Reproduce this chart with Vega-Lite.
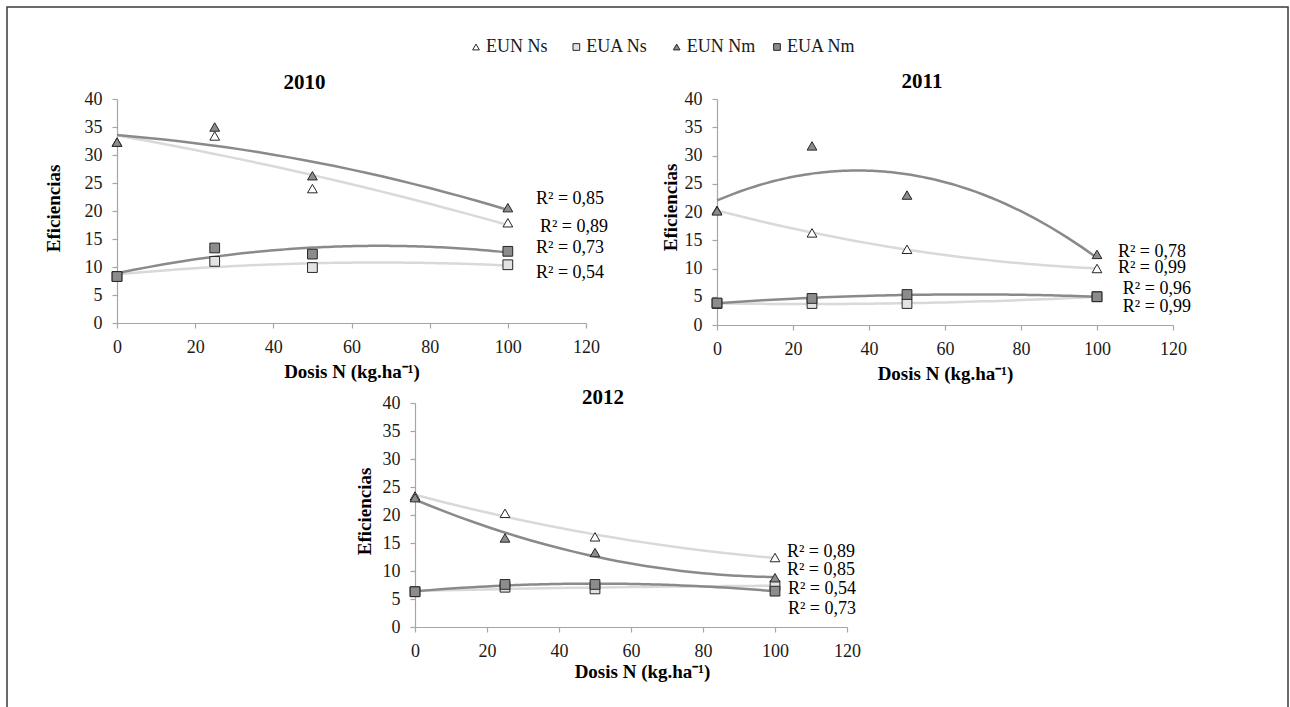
{
  "$schema": "https://vega.github.io/schema/vega-lite/v6.json",
  "autosize": {"type": "none"},
  "padding": {"left": 7, "top": 7, "right": 1283, "bottom": 700},
  "background": "white",
  "datasets": {
    "d": [
      {"anio": 2010, "serie": "EUN Ns", "dosis": 0, "valor": 32.3},
      {"anio": 2010, "serie": "EUN Ns", "dosis": 25, "valor": 33.4},
      {"anio": 2010, "serie": "EUN Ns", "dosis": 50, "valor": 24.0},
      {"anio": 2010, "serie": "EUN Ns", "dosis": 100, "valor": 17.9},
      {"anio": 2010, "serie": "EUA Ns", "dosis": 0, "valor": 8.3},
      {"anio": 2010, "serie": "EUA Ns", "dosis": 25, "valor": 11.0},
      {"anio": 2010, "serie": "EUA Ns", "dosis": 50, "valor": 9.9},
      {"anio": 2010, "serie": "EUA Ns", "dosis": 100, "valor": 10.4},
      {"anio": 2010, "serie": "EUN Nm", "dosis": 0, "valor": 32.3},
      {"anio": 2010, "serie": "EUN Nm", "dosis": 25, "valor": 35.0},
      {"anio": 2010, "serie": "EUN Nm", "dosis": 50, "valor": 26.3},
      {"anio": 2010, "serie": "EUN Nm", "dosis": 100, "valor": 20.6},
      {"anio": 2010, "serie": "EUA Nm", "dosis": 0, "valor": 8.3},
      {"anio": 2010, "serie": "EUA Nm", "dosis": 25, "valor": 13.4},
      {"anio": 2010, "serie": "EUA Nm", "dosis": 50, "valor": 12.3},
      {"anio": 2010, "serie": "EUA Nm", "dosis": 100, "valor": 12.8},
      {"anio": 2011, "serie": "EUN Ns", "dosis": 0, "valor": 20.3},
      {"anio": 2011, "serie": "EUN Ns", "dosis": 25, "valor": 16.3},
      {"anio": 2011, "serie": "EUN Ns", "dosis": 50, "valor": 13.4},
      {"anio": 2011, "serie": "EUN Ns", "dosis": 100, "valor": 10.0},
      {"anio": 2011, "serie": "EUA Ns", "dosis": 0, "valor": 3.8},
      {"anio": 2011, "serie": "EUA Ns", "dosis": 25, "valor": 3.8},
      {"anio": 2011, "serie": "EUA Ns", "dosis": 50, "valor": 3.8},
      {"anio": 2011, "serie": "EUA Ns", "dosis": 100, "valor": 5.0},
      {"anio": 2011, "serie": "EUN Nm", "dosis": 0, "valor": 20.2},
      {"anio": 2011, "serie": "EUN Nm", "dosis": 25, "valor": 31.7},
      {"anio": 2011, "serie": "EUN Nm", "dosis": 50, "valor": 23.0},
      {"anio": 2011, "serie": "EUN Nm", "dosis": 100, "valor": 12.5},
      {"anio": 2011, "serie": "EUA Nm", "dosis": 0, "valor": 3.9},
      {"anio": 2011, "serie": "EUA Nm", "dosis": 25, "valor": 4.7},
      {"anio": 2011, "serie": "EUA Nm", "dosis": 50, "valor": 5.4},
      {"anio": 2011, "serie": "EUA Nm", "dosis": 100, "valor": 5.0},
      {"anio": 2012, "serie": "EUN Ns", "dosis": 0, "valor": 23.4},
      {"anio": 2012, "serie": "EUN Ns", "dosis": 25, "valor": 20.3},
      {"anio": 2012, "serie": "EUN Ns", "dosis": 50, "valor": 16.1},
      {"anio": 2012, "serie": "EUN Ns", "dosis": 100, "valor": 12.4},
      {"anio": 2012, "serie": "EUA Ns", "dosis": 0, "valor": 6.3},
      {"anio": 2012, "serie": "EUA Ns", "dosis": 25, "valor": 7.1},
      {"anio": 2012, "serie": "EUA Ns", "dosis": 50, "valor": 6.8},
      {"anio": 2012, "serie": "EUA Ns", "dosis": 100, "valor": 7.4},
      {"anio": 2012, "serie": "EUN Nm", "dosis": 0, "valor": 23.1},
      {"anio": 2012, "serie": "EUN Nm", "dosis": 25, "valor": 15.9},
      {"anio": 2012, "serie": "EUN Nm", "dosis": 50, "valor": 13.3},
      {"anio": 2012, "serie": "EUN Nm", "dosis": 100, "valor": 8.8},
      {"anio": 2012, "serie": "EUA Nm", "dosis": 0, "valor": 6.3},
      {"anio": 2012, "serie": "EUA Nm", "dosis": 25, "valor": 7.6},
      {"anio": 2012, "serie": "EUA Nm", "dosis": 50, "valor": 7.6},
      {"anio": 2012, "serie": "EUA Nm", "dosis": 100, "valor": 6.4}
    ],
    "r2": [
      {"anio": 2010, "dosis": 107.2, "valor": 22.1, "etiqueta": "R² = 0,85"},
      {"anio": 2010, "dosis": 108.2, "valor": 17.1, "etiqueta": "R² = 0,89"},
      {"anio": 2010, "dosis": 107.2, "valor": 13.4, "etiqueta": "R² = 0,73"},
      {"anio": 2010, "dosis": 107.2, "valor": 8.9, "etiqueta": "R² = 0,54"},
      {"anio": 2011, "dosis": 105.5, "valor": 12.9, "etiqueta": "R² = 0,78"},
      {"anio": 2011, "dosis": 105.5, "valor": 10.1, "etiqueta": "R² = 0,99"},
      {"anio": 2011, "dosis": 106.8, "valor": 6.4, "etiqueta": "R² = 0,96"},
      {"anio": 2011, "dosis": 106.8, "valor": 3.2, "etiqueta": "R² = 0,99"},
      {"anio": 2012, "dosis": 103.3, "valor": 13.4, "etiqueta": "R² = 0,89"},
      {"anio": 2012, "dosis": 103.3, "valor": 10.2, "etiqueta": "R² = 0,85"},
      {"anio": 2012, "dosis": 103.6, "valor": 6.8, "etiqueta": "R² = 0,54"},
      {"anio": 2012, "dosis": 103.6, "valor": 3.2, "etiqueta": "R² = 0,73"}
    ],
    "leyenda": [
      {"serie": "EUN Ns"},
      {"serie": "EUA Ns"},
      {"serie": "EUN Nm"},
      {"serie": "EUA Nm"}
    ]
  },
  "bounds": "flush",
  "spacing": 0,
  "vconcat": [
    {
      "bounds": "flush",
      "spacing": 0,
      "vconcat": [
        {"width": 1, "height": 39, "data": {"values": [{}]}, "mark": {"type": "text", "text": ""}, "encoding": {}},
        {
          "bounds": "flush",
          "spacing": 0,
          "hconcat": [
            {"width": 469, "height": 1, "data": {"values": [{}]}, "mark": {"type": "text", "text": ""}, "encoding": {}},
            {
              "width": 301, "height": 2,
              "data": {"name": "leyenda"},
              "encoding": {
                "x": {"field": "serie", "type": "nominal", "scale": {"type": "point", "domain": ["EUN Ns", "EUA Ns", "EUN Nm", "EUA Nm"], "padding": 0}, "axis": null}
              },
              "layer": [
                {"mark": {"type": "point", "filled": true, "opacity": 1, "stroke": "#262626", "strokeWidth": 1, "size": 45},
                 "encoding": {
                   "shape": {"field": "serie", "type": "nominal", "scale": {"domain": ["EUN Ns", "EUA Ns", "EUN Nm", "EUA Nm"], "range": ["triangle-up", "square", "triangle-up", "square"]}, "legend": null},
                   "fill": {"field": "serie", "type": "nominal", "scale": {"domain": ["EUN Ns", "EUA Ns", "EUN Nm", "EUA Nm"], "range": ["#ffffff", "#e3e3e3", "#8c8c8c", "#8c8c8c"]}, "legend": null}
                 }},
                {"mark": {"type": "text", "align": "left", "baseline": "middle", "dx": 10, "fontSize": 18, "color": "#1a1a1a"},
                 "encoding": {"text": {"field": "serie", "type": "nominal"}}}
              ]
            }
          ]
        }
      ]
    },
    {
      "bounds": "flush",
      "spacing": 0,
      "vconcat": [
        {"width": 1, "height": 92, "data": {"values": [{}]}, "mark": {"type": "text", "text": ""}, "encoding": {}},
        {
          "bounds": "flush",
          "spacing": 0,
          "hconcat": [
            {"width": 110, "height": 1, "data": {"values": [{}]}, "mark": {"type": "text", "text": ""}, "encoding": {}},
            {
              "width": 469, "height": 224,
              "title": {"text": "2010", "dx": -47, "offset": -20, "frame": "group", "baseline": "alphabetic"},
              "encoding": {
                "x": {"field": "dosis", "type": "quantitative", "scale": {"domain": [0, 120], "nice": false}, "axis": {"title": "Dosis N (kg.ha⁻¹)", "values": [0, 20, 40, 60, 80, 100, 120], "titleX": 234.5, "titleY": 48}},
                "y": {"field": "valor", "type": "quantitative", "scale": {"domain": [0, 40], "nice": false}, "axis": {"title": "Eficiencias", "values": [0, 5, 10, 15, 20, 25, 30, 35, 40], "titleX": -64, "titleY": 109}}
              },
              "layer": [
                {"data": {"name": "d"}, "transform": [{"filter": "datum.anio == 2010"}, {"regression": "valor", "on": "dosis", "groupby": ["serie"], "method": "poly", "order": 2}],
                 "mark": {"type": "line", "strokeWidth": 2.5},
                 "encoding": {"stroke": {"field": "serie", "type": "nominal", "scale": {"domain": ["EUN Ns", "EUA Ns", "EUN Nm", "EUA Nm"], "range": ["#d9d9d9", "#d9d9d9", "#8a8a8a", "#8a8a8a"]}, "legend": null}}},
                {"data": {"name": "d"}, "transform": [{"filter": "datum.anio == 2010"}],
                 "mark": {"type": "point", "filled": true, "opacity": 1, "stroke": "#262626", "strokeWidth": 1, "size": 95},
                 "encoding": {
                   "shape": {"field": "serie", "type": "nominal", "scale": {"domain": ["EUN Ns", "EUA Ns", "EUN Nm", "EUA Nm"], "range": ["triangle-up", "square", "triangle-up", "square"]}, "legend": null},
                   "fill": {"field": "serie", "type": "nominal", "scale": {"domain": ["EUN Ns", "EUA Ns", "EUN Nm", "EUA Nm"], "range": ["#ffffff", "#e3e3e3", "#8c8c8c", "#8c8c8c"]}, "legend": null}
                 }},
                {"data": {"name": "r2"}, "transform": [{"filter": "datum.anio == 2010"}],
                 "mark": {"type": "text", "align": "left", "baseline": "middle"},
                 "encoding": {"text": {"field": "etiqueta", "type": "nominal"}}}
              ]
            },
            {"width": 131, "height": 1, "data": {"values": [{}]}, "mark": {"type": "text", "text": ""}, "encoding": {}},
            {
              "width": 456, "height": 226,
              "title": {"text": "2011", "dx": -23, "offset": -19, "frame": "group", "baseline": "alphabetic"},
              "encoding": {
                "x": {"field": "dosis", "type": "quantitative", "scale": {"domain": [0, 120], "nice": false}, "axis": {"title": "Dosis N (kg.ha⁻¹)", "values": [0, 20, 40, 60, 80, 100, 120], "titleX": 228, "titleY": 48}},
                "y": {"field": "valor", "type": "quantitative", "scale": {"domain": [0, 40], "nice": false}, "axis": {"title": "Eficiencias", "values": [0, 5, 10, 15, 20, 25, 30, 35, 40], "titleX": -47, "titleY": 108}}
              },
              "layer": [
                {"data": {"name": "d"}, "transform": [{"filter": "datum.anio == 2011"}, {"regression": "valor", "on": "dosis", "groupby": ["serie"], "method": "poly", "order": 2}],
                 "mark": {"type": "line", "strokeWidth": 2.5},
                 "encoding": {"stroke": {"field": "serie", "type": "nominal", "scale": {"domain": ["EUN Ns", "EUA Ns", "EUN Nm", "EUA Nm"], "range": ["#d9d9d9", "#d9d9d9", "#8a8a8a", "#8a8a8a"]}, "legend": null}}},
                {"data": {"name": "d"}, "transform": [{"filter": "datum.anio == 2011"}],
                 "mark": {"type": "point", "filled": true, "opacity": 1, "stroke": "#262626", "strokeWidth": 1, "size": 95},
                 "encoding": {
                   "shape": {"field": "serie", "type": "nominal", "scale": {"domain": ["EUN Ns", "EUA Ns", "EUN Nm", "EUA Nm"], "range": ["triangle-up", "square", "triangle-up", "square"]}, "legend": null},
                   "fill": {"field": "serie", "type": "nominal", "scale": {"domain": ["EUN Ns", "EUA Ns", "EUN Nm", "EUA Nm"], "range": ["#ffffff", "#e3e3e3", "#8c8c8c", "#8c8c8c"]}, "legend": null}
                 }},
                {"data": {"name": "r2"}, "transform": [{"filter": "datum.anio == 2011"}],
                 "mark": {"type": "text", "align": "left", "baseline": "middle"},
                 "encoding": {"text": {"field": "etiqueta", "type": "nominal"}}}
              ]
            }
          ]
        }
      ]
    },
    {
      "bounds": "flush",
      "spacing": 0,
      "vconcat": [
        {"width": 1, "height": 396, "data": {"values": [{}]}, "mark": {"type": "text", "text": ""}, "encoding": {}},
        {
          "bounds": "flush",
          "spacing": 0,
          "hconcat": [
            {"width": 408, "height": 1, "data": {"values": [{}]}, "mark": {"type": "text", "text": ""}, "encoding": {}},
            {
              "width": 432, "height": 224,
              "title": {"text": "2012", "dx": -28, "offset": -31, "frame": "group", "baseline": "alphabetic"},
              "encoding": {
                "x": {"field": "dosis", "type": "quantitative", "scale": {"domain": [0, 120], "nice": false}, "axis": {"title": "Dosis N (kg.ha⁻¹)", "values": [0, 20, 40, 60, 80, 100, 120], "titleX": 227, "titleY": 44}},
                "y": {"field": "valor", "type": "quantitative", "scale": {"domain": [0, 40], "nice": false}, "axis": {"title": "Eficiencias", "values": [0, 5, 10, 15, 20, 25, 30, 35, 40], "titleX": -51, "titleY": 108}}
              },
              "layer": [
                {"data": {"name": "d"}, "transform": [{"filter": "datum.anio == 2012"}, {"regression": "valor", "on": "dosis", "groupby": ["serie"], "method": "poly", "order": 2}],
                 "mark": {"type": "line", "strokeWidth": 2.5},
                 "encoding": {"stroke": {"field": "serie", "type": "nominal", "scale": {"domain": ["EUN Ns", "EUA Ns", "EUN Nm", "EUA Nm"], "range": ["#d9d9d9", "#d9d9d9", "#8a8a8a", "#8a8a8a"]}, "legend": null}}},
                {"data": {"name": "d"}, "transform": [{"filter": "datum.anio == 2012"}],
                 "mark": {"type": "point", "filled": true, "opacity": 1, "stroke": "#262626", "strokeWidth": 1, "size": 95},
                 "encoding": {
                   "shape": {"field": "serie", "type": "nominal", "scale": {"domain": ["EUN Ns", "EUA Ns", "EUN Nm", "EUA Nm"], "range": ["triangle-up", "square", "triangle-up", "square"]}, "legend": null},
                   "fill": {"field": "serie", "type": "nominal", "scale": {"domain": ["EUN Ns", "EUA Ns", "EUN Nm", "EUA Nm"], "range": ["#ffffff", "#e3e3e3", "#8c8c8c", "#8c8c8c"]}, "legend": null}
                 }},
                {"data": {"name": "r2"}, "transform": [{"filter": "datum.anio == 2012"}],
                 "mark": {"type": "text", "align": "left", "baseline": "middle"},
                 "encoding": {"text": {"field": "etiqueta", "type": "nominal"}}}
              ]
            }
          ]
        }
      ]
    },
    {"width": 1281, "height": 720, "view": {"stroke": "#3a3a3a", "strokeWidth": 1.5}, "data": {"values": [{}]}, "mark": {"type": "text", "text": ""}, "encoding": {}}
  ],
  "config": {
    "view": {"stroke": null},
    "font": "Liberation Serif",
    "axis": {"domainColor": "#a6a6a6", "domainWidth": 1.2, "tickColor": "#a6a6a6", "tickWidth": 1.2, "tickSize": 5, "grid": false, "labelFont": "Liberation Serif", "labelFontSize": 18, "labelColor": "#1a1a1a", "labelFlush": false, "labelOverlap": false, "labelBound": false, "titleFont": "Liberation Serif", "titleFontSize": 19, "titleFontWeight": "bold", "titleColor": "#000000", "titleAlign": "center", "titleBaseline": "middle"},
    "axisX": {"labelPadding": 10},
    "axisY": {"labelPadding": 10, "titleAngle": -90},
    "title": {"font": "Liberation Serif", "fontSize": 21, "fontWeight": "bold", "color": "#000000", "anchor": "middle"},
    "text": {"font": "Liberation Serif", "fontSize": 18, "color": "#000000"}
  }
}
